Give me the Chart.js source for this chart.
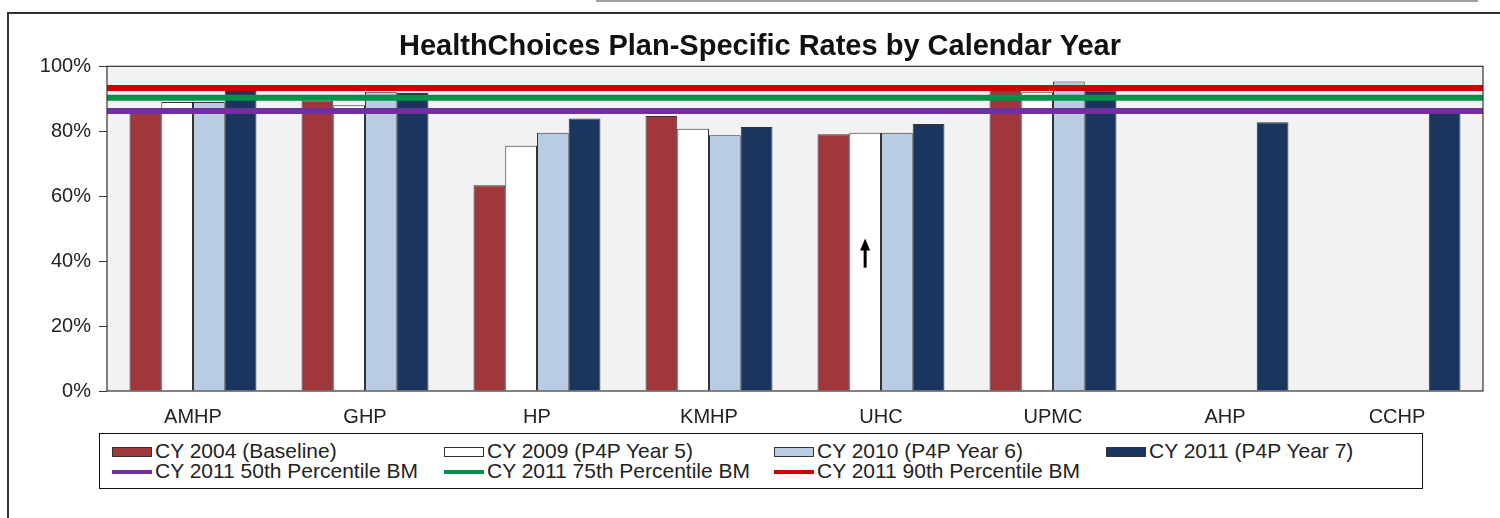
<!DOCTYPE html>
<html>
<head>
<meta charset="utf-8">
<title>HealthChoices Plan-Specific Rates by Calendar Year</title>
<script src="https://cdn.jsdelivr.net/npm/chart.js@4.4.1/dist/chart.umd.min.js"></script>
<style>
  html, body { margin: 0; padding: 0; background: #fff; overflow: hidden; }
  #wrap { position: relative; width: 1500px; height: 518px; overflow: hidden; }
  #frame { position: absolute; left: 7px; top: 12px; width: 1500px; height: 520px;
           border-left: 2px solid #333; border-top: 2px solid #333; }
  #topline { position: absolute; left: 596px; top: 0; width: 882px; height: 2px; background: #a0a0a0; }
  #chartBox { position: absolute; left: 0; top: 0; width: 1500px; height: 518px; }
  #legend { position: absolute; left: 99px; top: 433px; width: 1322px; height: 54px;
            border: 1.5px solid #111; background: #fff;
            font-family: 'Liberation Sans', Arial, sans-serif; font-size: 21px; color: #222; }
  .item { position: absolute; height: 20px; line-height: 20px; white-space: nowrap; }
  .sw { display: inline-block; width: 40px; vertical-align: middle; margin-right: 3px; box-sizing: border-box; }
</style>
</head>
<body>
<div id="wrap">
  <div id="frame"></div>
  <div id="topline"></div>
  <div id="chartBox"><canvas id="myChart"></canvas></div>
  <div id="legend"></div>
</div>
<script>
// Data
const categories = ["AMHP", "GHP", "HP", "KMHP", "UHC", "UPMC", "AHP", "CCHP"];
const cy2004 = [86.5, 89.5, 63.4, 84.7, 79.1, 93.0, null, null];
const cy2009 = [89.0, 88.0, 75.5, 80.8, 79.5, 92.0, null, null];
const cy2010 = [89.0, 92.2, 79.5, 78.8, 79.5, 95.3, null, null];
const cy2011 = [92.4, 91.8, 83.9, 81.3, 82.2, 92.5, 82.8, 86.5];
const bm50 = 86.2;
const bm75 = 90.3;
const bm90 = 93.3;
const yTicks = [0, 20, 40, 60, 80, 100];

// arrow drawn inside the UHC / CY 2009 bar
const arrowIndex = 4;
const arrowTip = 47;
const arrowTail = 38;

const barSeries = [
  { label: "CY 2004 (Baseline)", data: cy2004, color: "#A0373A" },
  { label: "CY 2009 (P4P Year 5)", data: cy2009, color: "#FFFFFF" },
  { label: "CY 2010 (P4P Year 6)", data: cy2010, color: "#B8CCE4" },
  { label: "CY 2011 (P4P Year 7)", data: cy2011, color: "#1B365E" },
];
const lineSeries = [
  { label: "CY 2011 50th Percentile BM", value: bm50, color: "#7030A0" },
  { label: "CY 2011 75th Percentile BM", value: bm75, color: "#00924A" },
  { label: "CY 2011 90th Percentile BM", value: bm90, color: "#D00000" },
];

Chart.defaults.font.family = "'Liberation Sans', Arial, sans-serif";
Chart.defaults.color = "#222";

// x axis is linear with one unit per category, so the benchmark
// lines can run from edge to edge of the plot on the same axis
const xMin = -0.5;
const xMax = categories.length - 0.5;

const datasets = [];
barSeries.forEach((s) => {
  datasets.push({
    type: "bar",
    label: s.label,
    data: s.data.map((v, i) => ({ x: i, y: v })),
    backgroundColor: s.color,
    borderColor: "#333",
    borderWidth: 1,
    borderSkipped: "bottom",
    categoryPercentage: 0.738,
    barPercentage: 1.0,
    order: 2,
  });
});
lineSeries.forEach((s) => {
  datasets.push({
    type: "line",
    label: s.label,
    data: [{ x: xMin, y: s.value }, { x: xMax, y: s.value }],
    borderColor: s.color,
    borderWidth: 6,
    pointRadius: 0,
    order: 1,
  });
});

// plot area background + border, and the arrow
const plotArea = {
  id: "plotArea",
  beforeDatasetsDraw(chart) {
    const { ctx, chartArea: a } = chart;
    ctx.save();
    ctx.fillStyle = "#F2F2F2";
    ctx.fillRect(a.left, a.top, a.right - a.left, a.bottom - a.top);
    ctx.restore();
  },
  afterDatasetsDraw(chart) {
    const { ctx, chartArea: a } = chart;
    ctx.save();
    ctx.strokeStyle = "#333";
    ctx.lineWidth = 1.2;
    ctx.strokeRect(a.left, a.top, a.right - a.left, a.bottom - a.top);

    const bar = chart.getDatasetMeta(1).data[arrowIndex];
    const y = chart.scales.y;
    const x = bar.x;
    const tip = y.getPixelForValue(arrowTip);
    const tail = y.getPixelForValue(arrowTail);
    ctx.strokeStyle = "#000";
    ctx.fillStyle = "#000";
    ctx.lineWidth = 3;
    ctx.beginPath();
    ctx.moveTo(x, tail);
    ctx.lineTo(x, tip + 8);
    ctx.stroke();
    ctx.beginPath();
    ctx.moveTo(x, tip);
    ctx.lineTo(x - 5, tip + 12);
    ctx.lineTo(x + 5, tip + 12);
    ctx.closePath();
    ctx.fill();
    ctx.restore();
  },
};

const ctx = document.getElementById("myChart").getContext("2d");
const chart = new Chart(ctx, {
  type: "bar",
  data: { datasets: datasets },
  options: {
    responsive: true,
    maintainAspectRatio: false,
    animation: false,
    layout: { padding: { left: 37, right: 17, top: 0, bottom: 87 } },
    plugins: {
      legend: { display: false },
      tooltip: { enabled: false },
      title: {
        display: true,
        text: "HealthChoices Plan-Specific Rates by Calendar Year",
        color: "#111",
        font: { size: 29, weight: "bold" },
        padding: { top: 30, bottom: 1.5 },
      },
    },
    scales: {
      x: {
        type: "linear",
        offset: false,
        min: xMin,
        max: xMax,
        afterBuildTicks: (scale) => { scale.ticks = categories.map((c, i) => ({ value: i })); },
        grid: { display: false, drawTicks: false },
        border: { display: false },
        ticks: {
          font: { size: 20 },
          color: "#222",
          padding: 14,
          maxRotation: 0,
          autoSkip: false,
          callback: (v) => categories[v],
        },
        afterFit: (scale) => { scale.height = 40; },
      },
      y: {
        min: 0,
        max: 100,
        afterBuildTicks: (scale) => { scale.ticks = yTicks.map((v) => ({ value: v })); },
        grid: { drawOnChartArea: false, drawTicks: true, tickLength: 8, color: "#333" },
        border: { display: false },
        ticks: { font: { size: 20 }, color: "#222", padding: 8, callback: (v) => v + "%" },
        afterFit: (scale) => { scale.width = 70; },
      },
    },
  },
  plugins: [plotArea],
});

// Legend in a fixed grid like the original
const legend = document.getElementById("legend");
const colLeft = [12, 344, 674, 1006];
barSeries.forEach((s, i) => {
  const el = document.createElement("div");
  el.className = "item";
  el.style.left = colLeft[i] + "px";
  el.style.top = "7px";
  el.innerHTML = `<span class="sw" style="height:10px;background:${s.color};border:1px solid #333"></span>${s.label}`;
  legend.appendChild(el);
});
lineSeries.forEach((s, i) => {
  const el = document.createElement("div");
  el.className = "item";
  el.style.left = colLeft[i] + "px";
  el.style.top = "27px";
  el.innerHTML = `<span class="sw" style="height:4px;background:${s.color}"></span>${s.label}`;
  legend.appendChild(el);
});
</script>
</body>
</html>
